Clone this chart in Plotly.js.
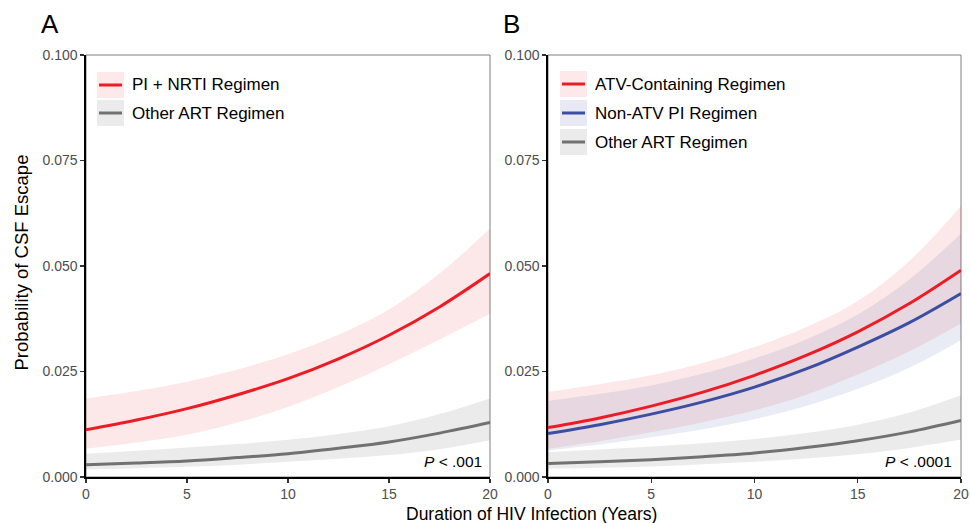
<!DOCTYPE html>
<html>
<head>
<meta charset="utf-8">
<script src="https://cdn.plot.ly/plotly-3.0.1.min.js"></script>
<style>html,body{margin:0;padding:0;background:#fff;}#chart{width:970px;height:523px;}</style>
</head>
<body>
<div id="chart"></div>
<script>
// Duration of HIV infection (years)
const years = [0, 2.5, 5, 7.5, 10, 12.5, 15, 17.5, 20];

// Panel A
const aPiNrti      = [0.0112, 0.0135, 0.0162, 0.0195, 0.0233, 0.0280, 0.0336, 0.0403, 0.0482];
const aPiNrtiHi    = [0.0186, 0.0204, 0.0226, 0.0255, 0.0291, 0.0337, 0.0397, 0.0482, 0.0589];
const aPiNrtiLo    = [0.0067, 0.0082, 0.0100, 0.0129, 0.0166, 0.0213, 0.0267, 0.0326, 0.0387];
const aOther       = [0.0029, 0.0033, 0.0038, 0.0046, 0.0055, 0.0068, 0.0083, 0.0104, 0.0129];
const aOtherHi     = [0.0055, 0.0062, 0.0070, 0.0078, 0.0088, 0.0102, 0.0120, 0.0149, 0.0186];
const aOtherLo     = [0.0018, 0.0021, 0.0024, 0.0029, 0.0036, 0.0043, 0.0052, 0.0066, 0.0087];

// Panel B
const bAtv         = [0.0117, 0.0140, 0.0168, 0.0201, 0.0241, 0.0288, 0.0344, 0.0411, 0.0490];
const bAtvHi       = [0.0202, 0.0220, 0.0241, 0.0270, 0.0308, 0.0355, 0.0417, 0.0512, 0.0642];
const bAtvLo       = [0.0067, 0.0085, 0.0106, 0.0130, 0.0158, 0.0195, 0.0243, 0.0298, 0.0364];
const bNonAtv      = [0.0103, 0.0124, 0.0149, 0.0178, 0.0213, 0.0256, 0.0308, 0.0366, 0.0435];
const bNonAtvHi    = [0.0180, 0.0197, 0.0217, 0.0245, 0.0281, 0.0326, 0.0385, 0.0468, 0.0577];
const bNonAtvLo    = [0.0063, 0.0077, 0.0094, 0.0113, 0.0137, 0.0168, 0.0209, 0.0259, 0.0324];
const bOther       = [0.0032, 0.0036, 0.0041, 0.0048, 0.0057, 0.0070, 0.0086, 0.0107, 0.0134];
const bOtherHi     = [0.0059, 0.0065, 0.0072, 0.0080, 0.0090, 0.0104, 0.0124, 0.0153, 0.0194];
const bOtherLo     = [0.0020, 0.0022, 0.0025, 0.0030, 0.0036, 0.0044, 0.0054, 0.0069, 0.0089];

const yTicks = [0, 0.025, 0.05, 0.075, 0.1];
const xTicks = [0, 5, 10, 15, 20];

const legendA = ["PI + NRTI Regimen", "Other ART Regimen"];
const legendB = ["ATV-Containing Regimen", "Non-ATV PI Regimen", "Other ART Regimen"];

const RED = "#ed1c24", BLUE = "#3b4ea2", GRAY = "#717171";
const RED_FILL = "rgba(237,28,36,0.10)", BLUE_FILL = "rgba(59,78,162,0.11)", GRAY_FILL = "rgba(113,113,113,0.14)";
const RED_KEY = "#fde8ea", BLUE_KEY = "#e9e9f4", GRAY_KEY = "#ebebeb";

function band(lo, hi, fill, xa, ya) {
  return [
    {x: years, y: lo, xaxis: xa, yaxis: ya, mode: "lines", line: {width: 0, shape: "spline"}, hoverinfo: "skip", showlegend: false},
    {x: years, y: hi, xaxis: xa, yaxis: ya, mode: "lines", line: {width: 0, shape: "spline"}, fill: "tonexty", fillcolor: fill, hoverinfo: "skip", showlegend: false}
  ];
}
function curve(y, color, xa, ya) {
  return {x: years, y: y, xaxis: xa, yaxis: ya, mode: "lines", line: {width: 3, color: color, shape: "spline"}, showlegend: false};
}

const data = [].concat(
  band(aOtherLo, aOtherHi, GRAY_FILL, "x", "y"),
  band(aPiNrtiLo, aPiNrtiHi, RED_FILL, "x", "y"),
  [curve(aOther, GRAY, "x", "y"), curve(aPiNrti, RED, "x", "y")],
  band(bOtherLo, bOtherHi, GRAY_FILL, "x2", "y2"),
  band(bAtvLo, bAtvHi, RED_FILL, "x2", "y2"),
  band(bNonAtvLo, bNonAtvHi, BLUE_FILL, "x2", "y2"),
  [curve(bOther, GRAY, "x2", "y2"), curve(bNonAtv, BLUE, "x2", "y2"), curve(bAtv, RED, "x2", "y2")]
);

// pixel helpers for layout decorations
const L = 86, R = 9, T = 55, B = 46, W = 970, H = 523;
const pw = W - L - R, ph = H - T - B;
const px = v => (v - L) / pw;
const py = v => (H - B - v) / ph;

const FONT = "Liberation Sans, Arial, Helvetica, sans-serif";
const axisCommon = {
  showgrid: false, zeroline: false, showline: true, linecolor: "#000", linewidth: 1.6,
  ticks: "outside", ticklen: 4, tickwidth: 1.2, tickcolor: "#333",
  tickfont: {family: FONT, size: 14, color: "#4d4d4d"}, fixedrange: true
};
const xDomA = [0, px(490)], xDomB = [px(548), 1];

const shapes = [];
const annotations = [];

// panel borders (top/right grey)
[xDomA, xDomB].forEach(d => {
  shapes.push({type: "rect", xref: "paper", yref: "paper", x0: d[0], x1: d[1], y0: 0, y1: 1,
    line: {color: "#7f7f7f", width: 1}, fillcolor: "rgba(0,0,0,0)", layer: "below"});
});

function legendItem(xLeft, yTop, color, keyFill, label) {
  shapes.push({type: "rect", xref: "paper", yref: "paper", x0: px(xLeft), x1: px(xLeft + 27),
    y0: py(yTop + 26), y1: py(yTop), line: {width: 0}, fillcolor: keyFill, layer: "above"});
  shapes.push({type: "line", xref: "paper", yref: "paper", x0: px(xLeft + 2), x1: px(xLeft + 25),
    y0: py(yTop + 13), y1: py(yTop + 13), line: {width: 3, color: color}, layer: "above"});
  annotations.push({xref: "paper", yref: "paper", x: px(xLeft + 33), y: py(yTop + 13), xanchor: "left", yanchor: "middle",
    text: label, showarrow: false, font: {family: FONT, size: 17, color: "#000"}});
}
legendItem(97, 72, RED, RED_KEY, legendA[0]);
legendItem(97, 100, GRAY, GRAY_KEY, legendA[1]);
legendItem(560, 71, RED, RED_KEY, legendB[0]);
legendItem(560, 100, BLUE, BLUE_KEY, legendB[1]);
legendItem(560, 129, GRAY, GRAY_KEY, legendB[2]);

annotations.push(
  {xref: "paper", yref: "paper", x: px(39), y: py(24), xanchor: "left", yanchor: "middle", text: "A", showarrow: false, font: {family: FONT, size: 26, color: "#000"}},
  {xref: "paper", yref: "paper", x: px(501), y: py(24), xanchor: "left", yanchor: "middle", text: "B", showarrow: false, font: {family: FONT, size: 26, color: "#000"}},
  {xref: "paper", yref: "paper", x: px(484), y: py(461), xanchor: "right", yanchor: "middle", text: "<i>P</i> < .001", showarrow: false, font: {family: FONT, size: 15.5, color: "#000"}},
  {xref: "paper", yref: "paper", x: px(954), y: py(461), xanchor: "right", yanchor: "middle", text: "<i>P</i> < .0001", showarrow: false, font: {family: FONT, size: 15.5, color: "#000"}},
  {xref: "paper", yref: "paper", x: px(531.5), y: py(514), xanchor: "center", yanchor: "middle", borderpad: 0, text: "Duration of HIV Infection (Years)", showarrow: false, font: {family: FONT, size: 17.5, color: "#000"}},
  {xref: "paper", yref: "paper", x: px(21), y: py(262.5), xanchor: "center", yanchor: "middle", textangle: -90, text: "Probability of CSF Escape", showarrow: false, font: {family: FONT, size: 18.5, color: "#000"}}
);

const layout = {
  width: W, height: H,
  margin: {l: L, r: R, t: T, b: B, pad: 0},
  paper_bgcolor: "#fff", plot_bgcolor: "rgba(0,0,0,0)",
  showlegend: false,
  xaxis: Object.assign({}, axisCommon, {domain: xDomA, range: [0, 20], tickvals: xTicks, anchor: "y"}),
  yaxis: Object.assign({}, axisCommon, {domain: [0, 1], range: [0, 0.1], tickvals: yTicks, tickformat: ".3f", anchor: "x"}),
  xaxis2: Object.assign({}, axisCommon, {domain: xDomB, range: [0, 20], tickvals: xTicks, anchor: "y2"}),
  yaxis2: Object.assign({}, axisCommon, {domain: [0, 1], range: [0, 0.1], tickvals: yTicks, tickformat: ".3f", anchor: "x2"}),
  shapes: shapes,
  annotations: annotations
};

Plotly.newPlot("chart", data, layout, {displayModeBar: false, staticPlot: true});
</script>
</body>
</html>
